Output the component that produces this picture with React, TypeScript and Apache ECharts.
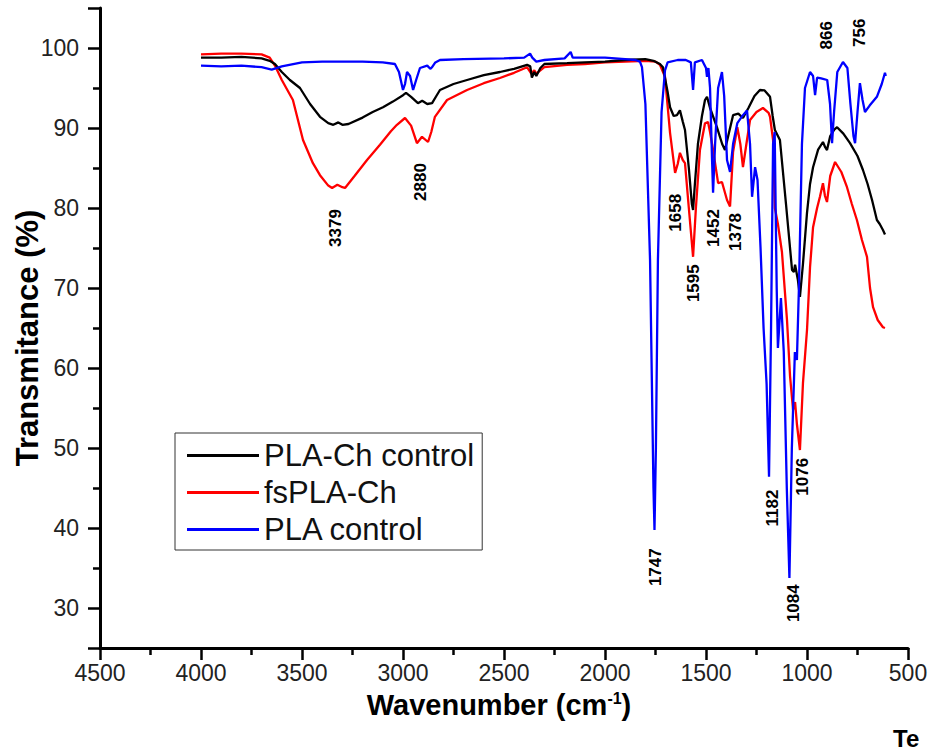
import React, { useEffect, useRef } from "react";
import * as echarts from "echarts";

const FONT = "'Liberation Sans', Arial, Helvetica, sans-serif";

// Axis ticks / labels
const xTickValues = [4500, 4000, 3500, 3000, 2500, 2000, 1500, 1000, 500];
const yLabelValues = [30, 40, 50, 60, 70, 80, 90, 100];
const yMajorTickValues = [25, 30, 40, 50, 60, 70, 80, 90, 100, 105];
const yMinorTickValues = [35, 45, 55, 65, 75, 85, 95];

const seriesNames = ["PLA-Ch control", "fsPLA-Ch", "PLA control"];
const seriesColors = ["#000000", "#ff0000", "#0000ff"];

// [wavenumber (cm-1), transmittance (%)]
const plaChControl: [number, number][] = [
  [4000, 98.8], [3900, 98.8], [3800, 98.9], [3700, 98.7], [3660, 98.4], [3634, 98.0],
  [3600, 97.0], [3560, 96.0], [3510, 95.0], [3460, 93.0], [3411, 91.4], [3370, 90.6],
  [3345, 90.4], [3320, 90.7], [3300, 90.4], [3270, 90.5], [3200, 91.3], [3150, 92.0],
  [3099, 92.6], [3050, 93.3], [3000, 94.1], [2985, 94.4], [2960, 93.9], [2926, 93.1],
  [2905, 93.4], [2880, 93.0], [2856, 93.1], [2835, 94.0], [2817, 94.75], [2750, 95.5],
  [2683, 96.0], [2600, 96.6], [2520, 97.0], [2450, 97.4], [2386, 97.9], [2370, 97.7],
  [2362, 96.3], [2350, 97.0], [2340, 96.5], [2320, 97.5], [2300, 98.0], [2188, 98.1],
  [2100, 98.2], [2000, 98.3], [1900, 98.5], [1800, 98.6], [1760, 98.4], [1728, 98.0],
  [1713, 97.6], [1690, 94.5], [1678, 92.6], [1660, 91.5], [1644, 91.6], [1629, 92.2],
  [1615, 90.8], [1604, 89.75], [1585, 85.0], [1570, 80.5], [1564, 79.75], [1555, 83.0],
  [1540, 88.0], [1520, 91.5], [1505, 93.5], [1495, 93.9], [1480, 92.5], [1446, 90.1],
  [1420, 88.0], [1406, 87.25], [1390, 89.0], [1366, 91.6], [1340, 91.8], [1317, 91.25],
  [1290, 92.5], [1260, 94.0], [1233, 94.75], [1210, 94.7], [1183, 93.9], [1170, 91.5],
  [1159, 89.75], [1134, 88.5], [1104, 80.5], [1074, 72.25], [1065, 72.0], [1059, 72.9],
  [1045, 71.0], [1035, 68.9], [1020, 73.0], [1000, 79.4], [985, 83.0], [970, 85.1],
  [945, 87.3], [921, 88.25], [910, 87.6], [901, 87.25], [885, 89.0], [865, 89.8],
  [851, 90.1], [820, 89.3], [787, 88.1], [750, 86.5], [723, 84.75], [700, 83.0],
  [678, 81.0], [654, 78.5], [640, 78.0], [624, 77.25], [614, 76.7],
];

const fsPlaCh: [number, number][] = [
  [4000, 99.2], [3900, 99.3], [3800, 99.3], [3700, 99.2], [3660, 98.8], [3634, 97.8],
  [3600, 96.0], [3545, 93.5], [3495, 88.5], [3446, 85.6], [3411, 84.1], [3370, 82.8],
  [3351, 82.5], [3325, 82.9], [3300, 82.6], [3287, 82.5], [3240, 84.0], [3178, 86.0],
  [3114, 87.9], [3060, 89.6], [3030, 90.4], [2990, 91.25], [2960, 90.3], [2931, 88.1],
  [2906, 88.9], [2876, 88.25], [2860, 89.5], [2842, 91.4], [2782, 93.5], [2683, 94.75],
  [2600, 95.6], [2520, 96.25], [2450, 96.9], [2386, 97.6], [2365, 96.8], [2350, 97.2],
  [2340, 96.8], [2300, 97.6], [2188, 97.9], [2100, 98.0], [2000, 98.2], [1900, 98.3],
  [1800, 98.4], [1750, 98.3], [1728, 97.9], [1703, 96.4], [1678, 89.4], [1653, 84.4],
  [1640, 85.5], [1629, 86.9], [1615, 86.0], [1604, 85.6], [1585, 80.0], [1564, 73.9],
  [1550, 80.0], [1530, 87.25], [1505, 90.6], [1490, 90.75], [1480, 89.5], [1465, 87.25],
  [1440, 83.1], [1421, 83.25], [1396, 81.0], [1381, 80.2], [1366, 87.0], [1345, 90.1],
  [1330, 88.0], [1317, 85.1], [1300, 88.0], [1282, 91.0], [1250, 92.0], [1218, 92.5],
  [1190, 91.9], [1183, 91.4], [1168, 88.5], [1159, 80.0], [1144, 78.0], [1124, 74.5],
  [1099, 66.0], [1084, 59.0], [1069, 54.75], [1059, 55.75], [1050, 53.0], [1035, 49.75],
  [1020, 58.1], [1000, 64.75], [985, 72.6], [970, 77.6], [950, 80.0], [936, 81.4],
  [921, 83.1], [911, 81.5], [901, 80.75], [885, 84.0], [861, 85.75], [830, 84.5],
  [802, 82.6], [778, 80.5], [753, 78.5], [728, 76.0], [703, 73.9], [688, 70.0],
  [673, 67.6], [650, 66.0], [624, 65.1], [614, 65.0],
];

const plaControl: [number, number][] = [
  [4000, 97.8], [3900, 97.7], [3800, 97.8], [3700, 97.6], [3650, 97.3], [3600, 97.7],
  [3500, 98.2], [3400, 98.3], [3300, 98.3], [3200, 98.3], [3100, 98.2], [3040, 98.0],
  [3020, 97.0], [3000, 94.75], [2990, 95.5], [2980, 97.0], [2965, 96.5], [2950, 94.75],
  [2935, 96.0], [2916, 97.5], [2880, 97.8], [2865, 97.4], [2856, 97.6], [2840, 98.2],
  [2817, 98.5], [2700, 98.6], [2500, 98.7], [2400, 98.8], [2371, 99.3], [2360, 98.8],
  [2340, 98.3], [2300, 98.5], [2200, 98.7], [2170, 99.5], [2160, 98.8], [2100, 98.8],
  [2000, 98.8], [1900, 98.6], [1850, 98.5], [1827, 98.3], [1817, 97.6], [1800, 93.0],
  [1777, 73.5], [1760, 45.0], [1755, 39.75], [1748, 50.0], [1738, 73.5], [1720, 92.0],
  [1703, 97.2], [1690, 98.2], [1640, 98.5], [1600, 98.5], [1575, 98.2], [1564, 94.75],
  [1555, 98.2], [1520, 98.5], [1500, 97.5], [1495, 96.4], [1488, 97.5], [1480, 95.0],
  [1470, 86.0], [1465, 81.9], [1455, 88.0], [1440, 95.0], [1421, 97.0], [1410, 94.0],
  [1396, 86.0], [1381, 84.5], [1366, 88.0], [1345, 90.6], [1317, 91.6], [1297, 92.2],
  [1282, 88.0], [1272, 81.4], [1257, 85.1], [1245, 83.5], [1230, 75.0], [1215, 65.0],
  [1200, 58.0], [1188, 46.4], [1178, 65.0], [1168, 88.0], [1160, 89.5], [1150, 70.0],
  [1144, 62.5], [1129, 68.75], [1115, 62.0], [1100, 45.0], [1087, 33.75], [1075, 50.0],
  [1060, 62.0], [1050, 61.0], [1040, 70.0], [1025, 88.0], [1010, 95.0], [985, 97.0],
  [970, 96.5], [960, 94.1], [950, 96.3], [930, 96.2], [900, 96.0], [886, 93.0],
  [876, 88.1], [866, 92.0], [850, 97.0], [822, 98.25], [800, 97.5], [785, 93.0],
  [770, 89.0], [762, 88.1], [750, 92.0], [738, 95.6], [725, 93.5], [713, 92.0],
  [690, 92.8], [654, 93.9], [630, 95.5], [614, 96.9], [610, 96.5],
];

// Peak annotations: label text, position of label centre (wavenumber, transmittance)
const peakLabels = ["3379", "2880", "1658", "1595", "1452", "1378", "1747", "1182", "1084", "1076", "866", "756"];
const peakLabelX = [3332, 2911, 1653, 1564, 1465, 1356, 1752, 1173, 1069, 1020, 901, 738];
const peakLabelY = [77.5, 83.25, 79.4, 70.6, 77.5, 77.0, 35.1, 42.5, 30.6, 46.4, 101.6, 101.9];

export default function App() {
  const ref = useRef<HTMLDivElement>(null);

  useEffect(() => {
    document.body.style.margin = "0";
    if (!ref.current) return;
    const chart = echarts.init(ref.current, undefined, { renderer: "svg" });
    const spectra = [plaChControl, fsPlaCh, plaControl];
    const drawOrder = [1, 0, 2];

    const option: any = {
      animation: false,
      backgroundColor: "#ffffff",
      textStyle: { fontFamily: FONT },
      grid: { left: 100, right: 21, top: 8, bottom: 103, containLabel: false, outerBoundsMode: "none" },
      legend: {
        data: seriesNames,
        orient: "vertical",
        left: 175,
        top: 433,
        icon: "rect",
        itemWidth: 72,
        itemHeight: 3,
        itemGap: 6,
        padding: [7, 8, 5, 12],
        borderColor: "#333",
        borderWidth: 1,
        backgroundColor: "#ffffff",
        textStyle: { fontSize: 31, fontFamily: FONT, color: "#111", lineHeight: 30 },
      },
      xAxis: {
        type: "value",
        min: 500,
        max: 4500,
        interval: 500,
        inverse: true,
        name: "Wavenumber (cm{sup|-1})",
        nameLocation: "middle",
        nameGap: 42,
        nameMoveOverlap: false,
        nameTextStyle: {
          fontSize: 29,
          fontWeight: "bold",
          fontFamily: FONT,
          color: "#000",
          padding: [0, 10, 0, 0],
          rich: {
            sup: { fontSize: 16, fontWeight: "bold", fontFamily: FONT, color: "#000", verticalAlign: "top" },
          },
        },
        axisLine: { show: true, onZero: false, lineStyle: { color: "#000", width: 3 } },
        axisTick: { show: true, inside: false, length: 12, lineStyle: { color: "#000", width: 2.5 } },
        minorTick: { show: true, splitNumber: 2, length: 7, lineStyle: { color: "#000", width: 2.5 } },
        axisLabel: {
          fontSize: 23,
          color: "#222",
          fontFamily: FONT,
          margin: 13,
          formatter: (v: number) => (xTickValues.indexOf(v) >= 0 ? String(v) : ""),
        },
        splitLine: { show: false },
        minorSplitLine: { show: false },
      },
      yAxis: [
        {
          type: "value",
          min: 25,
          max: 105,
          position: "left",
          name: "Transmitance (%){gap|}",
          nameLocation: "middle",
          nameGap: 57,
          nameMoveOverlap: false,
          nameTextStyle: {
            fontSize: 31,
            fontWeight: "bold",
            fontFamily: FONT,
            color: "#000",
            rich: { gap: { width: 20 } },
          },
          axisLine: { show: true, onZero: false, lineStyle: { color: "#000", width: 3 } },
          axisTick: { show: true, inside: false, length: 12, customValues: yMajorTickValues, lineStyle: { color: "#000", width: 2.5 } },
          axisLabel: { fontSize: 23, color: "#222", fontFamily: FONT, margin: 21, customValues: yLabelValues },
          splitLine: { show: false },
        },
        {
          type: "value",
          min: 25,
          max: 105,
          position: "left",
          offset: 0,
          axisLine: { show: false },
          axisTick: { show: true, inside: false, length: 7, customValues: yMinorTickValues, lineStyle: { color: "#000", width: 2.5 } },
          axisLabel: { show: false },
          splitLine: { show: false },
        },
      ],
      series: [
        ...drawOrder.map((i) => ({
          type: "line",
          name: seriesNames[i],
          data: spectra[i],
          yAxisIndex: 0,
          showSymbol: false,
          symbol: "none",
          color: seriesColors[i],
          lineStyle: { width: 2.3, color: seriesColors[i] },
          silent: true,
        })),
        {
          type: "scatter",
          name: "peaks",
          yAxisIndex: 0,
          symbol: "circle",
          symbolSize: 1,
          itemStyle: { color: "rgba(0,0,0,0)", opacity: 1 },
          silent: true,
          z: 10,
          data: peakLabels.map((t, i) => ({ name: t, value: [peakLabelX[i], peakLabelY[i]] })),
          label: {
            show: true,
            position: "inside",
            formatter: "{b}",
            rotate: 90,
            fontSize: 17,
            fontWeight: "bold",
            fontFamily: FONT,
            color: "#000",
            opacity: 1,
            textBorderWidth: 0,
          },
        },
      ],
      graphic: [
        {
          type: "text",
          left: 893,
          top: 726,
          style: { text: "Te", font: `bold 24px ${FONT}`, fill: "#000" },
        },
      ],
    };

    chart.setOption(option);
    return () => chart.dispose();
  }, []);

  return (
    <div
      ref={ref}
      style={{ position: "fixed", left: 0, top: 0, width: 929, height: 751, background: "#fff" }}
    />
  );
}
